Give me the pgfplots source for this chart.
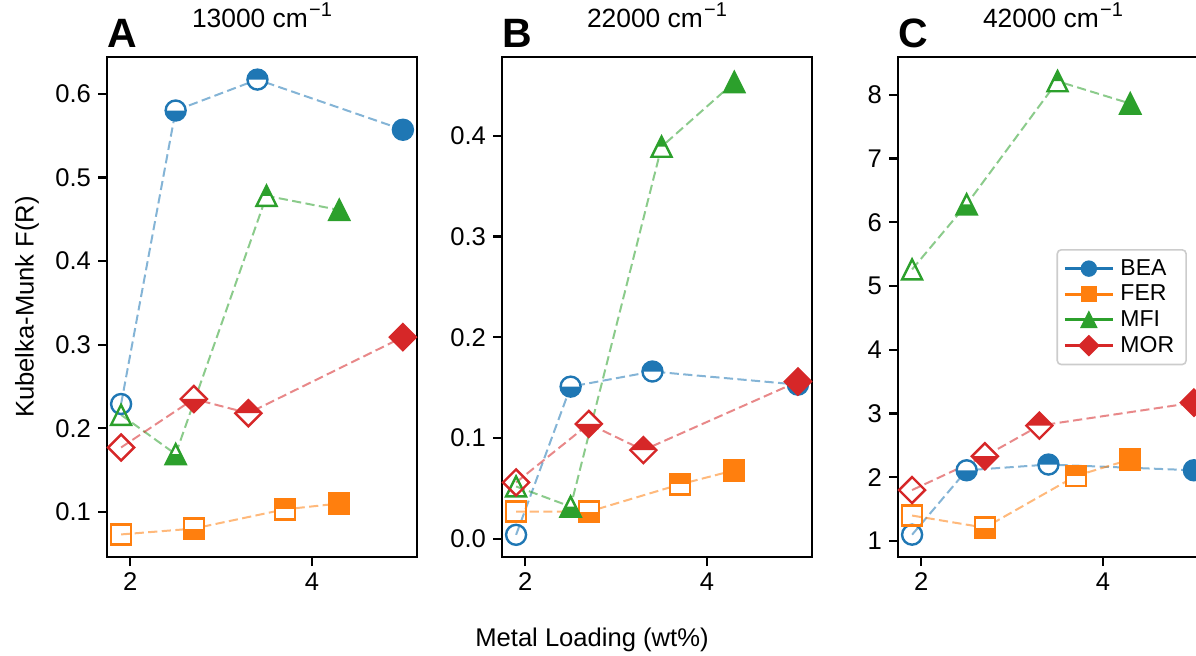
\documentclass[border=0pt]{standalone}
\usepackage{fontspec}
\setmainfont{Liberation Sans}
\usepackage{pgfplots}
\pgfplotsset{compat=1.18}
\definecolor{cB}{HTML}{1F77B4}
\definecolor{cF}{HTML}{FF7F0E}
\definecolor{cM}{HTML}{2CA02C}
\definecolor{cR}{HTML}{D62728}
\newcommand\ticklab{\fontsize{12.8}{14}\selectfont}
\newcommand\titlefont{\fontsize{13.2}{14}\selectfont}
\newcommand\legfont{\fontsize{11.5}{13}\selectfont}
\newcommand\invcm{cm\kern0.6pt\raisebox{5.6pt}{\fontsize{10}{10}\selectfont −1}}
% shape paths
\def\cpath{\pgfpathcircle{\pgfpointorigin}{\pgfplotmarksize}}
\def\cbotpath{\pgfpathmoveto{\pgfqpoint{\pgfplotmarksize}{0pt}}\pgfpatharc{0}{-180}{\pgfplotmarksize}\pgfpathclose}
\def\ctoppath{\pgfpathmoveto{\pgfqpoint{\pgfplotmarksize}{0pt}}\pgfpatharc{0}{180}{\pgfplotmarksize}\pgfpathclose}
\def\spath{\pgfpathrectanglecorners{\pgfqpoint{-\pgfplotmarksize}{-\pgfplotmarksize}}{\pgfqpoint{\pgfplotmarksize}{\pgfplotmarksize}}}
\def\sbotpath{\pgfpathrectanglecorners{\pgfqpoint{-\pgfplotmarksize}{-\pgfplotmarksize}}{\pgfqpoint{\pgfplotmarksize}{0pt}}}
\def\stoppath{\pgfpathrectanglecorners{\pgfqpoint{-\pgfplotmarksize}{0pt}}{\pgfqpoint{\pgfplotmarksize}{\pgfplotmarksize}}}
\def\tpath{\pgfpathmoveto{\pgfqpoint{0pt}{\pgfplotmarksize}}\pgfpathlineto{\pgfqpoint{-\pgfplotmarksize}{-\pgfplotmarksize}}\pgfpathlineto{\pgfqpoint{\pgfplotmarksize}{-\pgfplotmarksize}}\pgfpathclose}
\def\tbotpath{\pgfpathmoveto{\pgfqpoint{-\pgfplotmarksize}{-\pgfplotmarksize}}\pgfpathlineto{\pgfqpoint{\pgfplotmarksize}{-\pgfplotmarksize}}\pgfpathlineto{\pgfqpoint{.5\pgfplotmarksize}{0pt}}\pgfpathlineto{\pgfqpoint{-.5\pgfplotmarksize}{0pt}}\pgfpathclose}
\def\ttoppath{\pgfpathmoveto{\pgfqpoint{-.5\pgfplotmarksize}{0pt}}\pgfpathlineto{\pgfqpoint{.5\pgfplotmarksize}{0pt}}\pgfpathlineto{\pgfqpoint{0pt}{\pgfplotmarksize}}\pgfpathclose}
\def\dpath{\pgfpathmoveto{\pgfqpoint{0pt}{1.3\pgfplotmarksize}}\pgfpathlineto{\pgfqpoint{1.3\pgfplotmarksize}{0pt}}\pgfpathlineto{\pgfqpoint{0pt}{-1.3\pgfplotmarksize}}\pgfpathlineto{\pgfqpoint{-1.3\pgfplotmarksize}{0pt}}\pgfpathclose}
\def\dbotpath{\pgfpathmoveto{\pgfqpoint{-1.3\pgfplotmarksize}{0pt}}\pgfpathlineto{\pgfqpoint{1.3\pgfplotmarksize}{0pt}}\pgfpathlineto{\pgfqpoint{0pt}{-1.3\pgfplotmarksize}}\pgfpathclose}
\def\dtoppath{\pgfpathmoveto{\pgfqpoint{-1.3\pgfplotmarksize}{0pt}}\pgfpathlineto{\pgfqpoint{0pt}{1.3\pgfplotmarksize}}\pgfpathlineto{\pgfqpoint{1.3\pgfplotmarksize}{0pt}}\pgfpathclose}
\newcommand\declfour[4]{%
 \pgfdeclareplotmark{#1full}{#2\pgfusepathqfillstroke}%
 \pgfdeclareplotmark{#1none}{#2\pgfusepathqstroke}%
 \pgfdeclareplotmark{#1bot}{\begin{pgfscope}\pgfsetfillcolor{white}#2\pgfusepathqfill\end{pgfscope}#3\pgfusepathqfill #2\pgfusepathqstroke}%
 \pgfdeclareplotmark{#1top}{\begin{pgfscope}\pgfsetfillcolor{white}#2\pgfusepathqfill\end{pgfscope}#4\pgfusepathqfill #2\pgfusepathqstroke}%
}
\declfour{c}{\cpath}{\cbotpath}{\ctoppath}
\declfour{s}{\spath}{\sbotpath}{\stoppath}
\declfour{t}{\tpath}{\tbotpath}{\ttoppath}
\declfour{d}{\dpath}{\dbotpath}{\dtoppath}
% one series: colour, shape, four points (none, bottom-half, top-half, full)
\newcommand\series[6]{%
 \addplot[forget plot, color=#1, draw opacity=0.55, line width=1pt, dash pattern=on 4.6pt off 2.2pt] coordinates {#3 #4 #5 #6};
 \addplot[forget plot, only marks, color=#1, mark=#2none, mark options={solid, line width=1.2pt}] coordinates {#3};
 \addplot[forget plot, only marks, color=#1, mark=#2bot, mark options={solid, line width=1.2pt}] coordinates {#4};
 \addplot[forget plot, only marks, color=#1, mark=#2top, mark options={solid, line width=1.2pt}] coordinates {#5};
 \addplot[forget plot, only marks, color=#1, mark=#2full, mark options={solid, line width=1.2pt}] coordinates {#6};
}
\pgfplotsset{
 panel/.style={
  width=155pt, height=250pt, scale only axis, anchor=north west,
  xmin=1.745, xmax=5.155, xtick={2,4},
  tick align=outside, tick pos=left, major tick length=4.5pt,
  every tick/.style={black, line width=1.1pt},
  axis line style={line width=1.1pt},
  ticklabel style={font=\ticklab},
  /pgf/number format/assume math mode=true,
  mark size=5pt,
  title style={at={(0.5,1)}, anchor=base, yshift=8.9pt, font=\titlefont, inner sep=0pt},
 },
 onedec/.style={yticklabel style={/pgf/number format/.cd, fixed, fixed zerofill, precision=1}},
}
\begin{document}
\begin{tikzpicture}
\path[clip, use as bounding box] (0pt,0pt) rectangle (598pt,-327.5pt);
% ---------------- A
\begin{axis}[panel, onedec, name=A, at={(53.5pt,-28.5pt)},
  ymin=0.046, ymax=0.644, ytick={0.1,0.2,0.3,0.4,0.5,0.6},
  title={13000 \invcm}]
\series{cB}{c}{(1.9,0.229)}{(2.5,0.580)}{(3.4,0.617)}{(5.0,0.557)}
\series{cF}{s}{(1.9,0.073)}{(2.7,0.080)}{(3.7,0.103)}{(4.3,0.110)}
\series{cM}{t}{(1.9,0.216)}{(2.5,0.169)}{(3.5,0.478)}{(4.3,0.461)}
\series{cR}{d}{(1.9,0.177)}{(2.7,0.235)}{(3.3,0.218)}{(5.0,0.309)}
\end{axis}
% ---------------- B
\begin{axis}[panel, onedec, name=B, at={(251pt,-28.5pt)},
  ymin=-0.018, ymax=0.478, ytick={0,0.1,0.2,0.3,0.4},
  title={22000 \invcm}]
\series{cB}{c}{(1.9,0.004)}{(2.5,0.151)}{(3.4,0.166)}{(5.0,0.153)}
\series{cF}{s}{(1.9,0.027)}{(2.7,0.027)}{(3.7,0.054)}{(4.3,0.068)}
\series{cM}{t}{(1.9,0.052)}{(2.5,0.032)}{(3.5,0.389)}{(4.3,0.453)}
\series{cR}{d}{(1.9,0.056)}{(2.7,0.114)}{(3.3,0.088)}{(5.0,0.156)}
\end{axis}
% ---------------- C
\begin{axis}[panel, name=C, at={(449pt,-28.5pt)},
  ymin=0.75, ymax=8.59, ytick={1,2,3,4,5,6,7,8},
  title={42000 \invcm},
  legend image code/.code={\draw[mark repeat=2, mark phase=2, #1] plot coordinates {(0pt,0pt) (12pt,0pt) (24pt,0pt)};},
  legend cell align=left,
  legend style={at={(0.932,0.616)}, anchor=north east, draw=black!20, line width=0.8pt,
    rounded corners=2pt, fill=white, font=\legfont, inner xsep=3pt, inner ysep=3pt,
    row sep=0pt, nodes={inner xsep=3pt, inner ysep=1.7pt},
    /tikz/every even column/.append style={column sep=3pt}}]
\addlegendimage{color=cB, mark=cfull, mark size=3.6pt, line width=1.6pt, solid, mark options={line width=1pt}}
\addlegendentry{BEA}
\addlegendimage{color=cF, mark=sfull, mark size=3.6pt, line width=1.6pt, solid, mark options={line width=1pt}}
\addlegendentry{FER}
\addlegendimage{color=cM, mark=tfull, mark size=3.6pt, line width=1.6pt, solid, mark options={line width=1pt}}
\addlegendentry{MFI}
\addlegendimage{color=cR, mark=dfull, mark size=3.6pt, line width=1.6pt, solid, mark options={line width=1pt}}
\addlegendentry{MOR}
\series{cB}{c}{(1.9,1.10)}{(2.5,2.11)}{(3.4,2.20)}{(5.0,2.11)}
\series{cF}{s}{(1.9,1.40)}{(2.7,1.21)}{(3.7,2.02)}{(4.3,2.28)}
\series{cM}{t}{(1.9,5.26)}{(2.5,6.28)}{(3.5,8.21)}{(4.3,7.86)}
\series{cR}{d}{(1.9,1.80)}{(2.7,2.33)}{(3.3,2.81)}{(5.0,3.17)}
\end{axis}
% panel letters and shared labels
\node[anchor=base west, inner sep=0pt, font=\bfseries\fontsize{20.5}{22}\selectfont] at ([yshift=5pt]A.north west) {A};
\node[anchor=base west, inner sep=0pt, font=\bfseries\fontsize{20.5}{22}\selectfont] at ([yshift=5pt]B.north west) {B};
\node[anchor=base west, inner sep=0pt, font=\bfseries\fontsize{20.5}{22}\selectfont] at ([yshift=5pt]C.north west) {C};
\node[font=\ticklab, rotate=90, anchor=center] at (13.5pt,-153.5pt) {Kubelka-Munk F(R)};
\node[font=\ticklab, anchor=base] at (296pt,-323pt) {Metal Loading (wt\%)};
\end{tikzpicture}
\end{document}
